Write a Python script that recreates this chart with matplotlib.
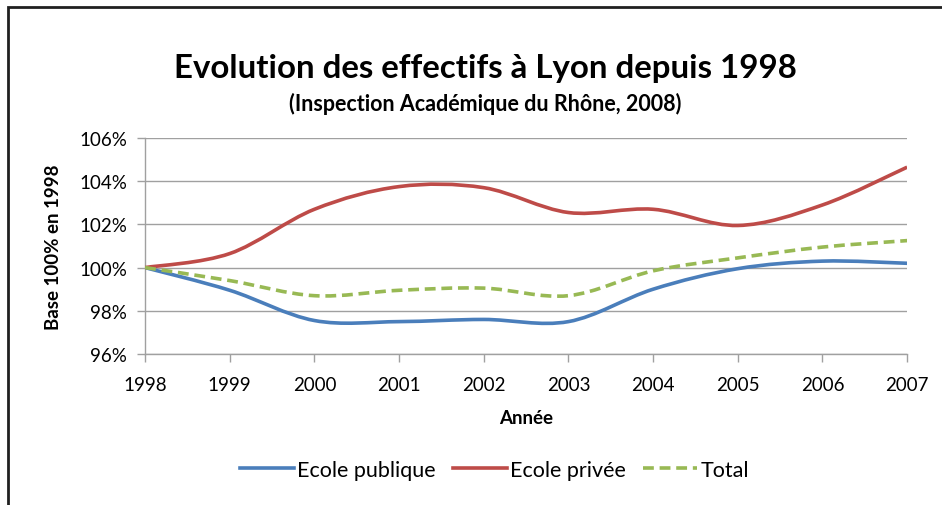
import numpy as np
import matplotlib.pyplot as plt
from matplotlib.path import Path
from matplotlib.patches import PathPatch, Rectangle
from matplotlib.lines import Line2D
from matplotlib.ticker import FuncFormatter

# ============================
# Data (base 100% in 1998)
# ============================
years = [1998, 1999, 2000, 2001, 2002, 2003, 2004, 2005, 2006, 2007]
publique = [100.0, 98.95, 97.55, 97.5, 97.6, 97.5, 99.0, 99.95, 100.3, 100.2]
privee = [100.0, 100.65, 102.7, 103.75, 103.7, 102.55, 102.7, 101.95, 102.9, 104.65]
total = [100.0, 99.4, 98.7, 98.95, 99.05, 98.7, 99.85, 100.45, 100.95, 101.25]

plt.rcParams['font.family'] = ['Lato', 'DejaVu Sans']


def smooth_path(x, y):
    # Excel-like smoothed line: cubic Bezier through each point
    x = np.asarray(x, float)
    y = np.asarray(y, float)
    n = len(x)
    verts = [(x[0], y[0])]
    codes = [Path.MOVETO]
    for i in range(n - 1):
        p0 = np.array([x[max(i - 1, 0)], y[max(i - 1, 0)]])
        p1 = np.array([x[i], y[i]])
        p2 = np.array([x[i + 1], y[i + 1]])
        p3 = np.array([x[min(i + 2, n - 1)], y[min(i + 2, n - 1)]])
        c1 = p1 + (p2 - p0) / 6
        c2 = p2 - (p3 - p1) / 6
        verts += [tuple(c1), tuple(c2), tuple(p2)]
        codes += [Path.CURVE4] * 3
    return Path(verts, codes)


fig = plt.figure(figsize=(9.42, 5.06), dpi=100)
ax = fig.add_axes([0.154, 0.2984, 0.809, 0.4269])

series = [
    (publique, '#4A7EBB', '-', 'Ecole publique'),
    (privee, '#BE4B48', '-', 'Ecole privée'),
    (total, '#98B954', (0, (3, 1.6)), 'Total'),
]
handles = []
for vals, col, ls, lab in series:
    patch = PathPatch(smooth_path(years, vals), facecolor='none', edgecolor=col,
                      linewidth=2.6, linestyle=ls, capstyle='butt', zorder=3)
    ax.add_patch(patch)
    handles.append(Line2D([], [], color=col, linewidth=2.6, linestyle=ls, label=lab))

ax.set_xlim(1998, 2007)
ax.set_ylim(96, 106)
ax.set_xticks(years)
ax.set_yticks([96, 98, 100, 102, 104, 106])
ax.yaxis.set_major_formatter(FuncFormatter(lambda v, p: f"{v:.0f}%"))
ax.grid(axis='y', color='#A0A0A0', linewidth=1.0)
ax.set_axisbelow(True)
for s in ['top', 'right']:
    ax.spines[s].set_visible(False)
for s in ['left', 'bottom']:
    ax.spines[s].set_color('#A0A0A0')
    ax.spines[s].set_linewidth(1.0)
ax.tick_params(axis='x', colors='#A0A0A0', length=5.5, width=1.0, labelcolor='black',
               labelsize=13.5, pad=10)
ax.tick_params(axis='y', colors='#A0A0A0', length=6, width=1.0, labelcolor='black',
               labelsize=13.5, pad=7)

ax.set_xlabel("Année", fontsize=13.5, fontweight='bold', labelpad=12)
ax.set_ylabel("Base 100% en 1998", fontsize=13.5, fontweight='bold', labelpad=12)

fig.text(0.515, 0.865, "Evolution des effectifs à Lyon depuis 1998",
         ha='center', va='center', fontsize=23.8, fontweight='bold')
fig.text(0.515, 0.795, "(Inspection Académique du Rhône, 2008)",
         ha='center', va='center', fontsize=15.5, fontweight='bold')

fig.legend(handles=handles, loc='center', bbox_to_anchor=(0.525, 0.07), ncol=3,
           frameon=False, fontsize=15.5, handlelength=2.5, handletextpad=0.15,
           columnspacing=0.8)

# outer frame
fig.patches.append(Rectangle((8 / 942, -0.1), 1.1, 1 - 8 / 506 + 0.1,
                             transform=fig.transFigure, fill=False,
                             edgecolor='#202020', linewidth=2.0))

fig.savefig("out.png", dpi=100)
